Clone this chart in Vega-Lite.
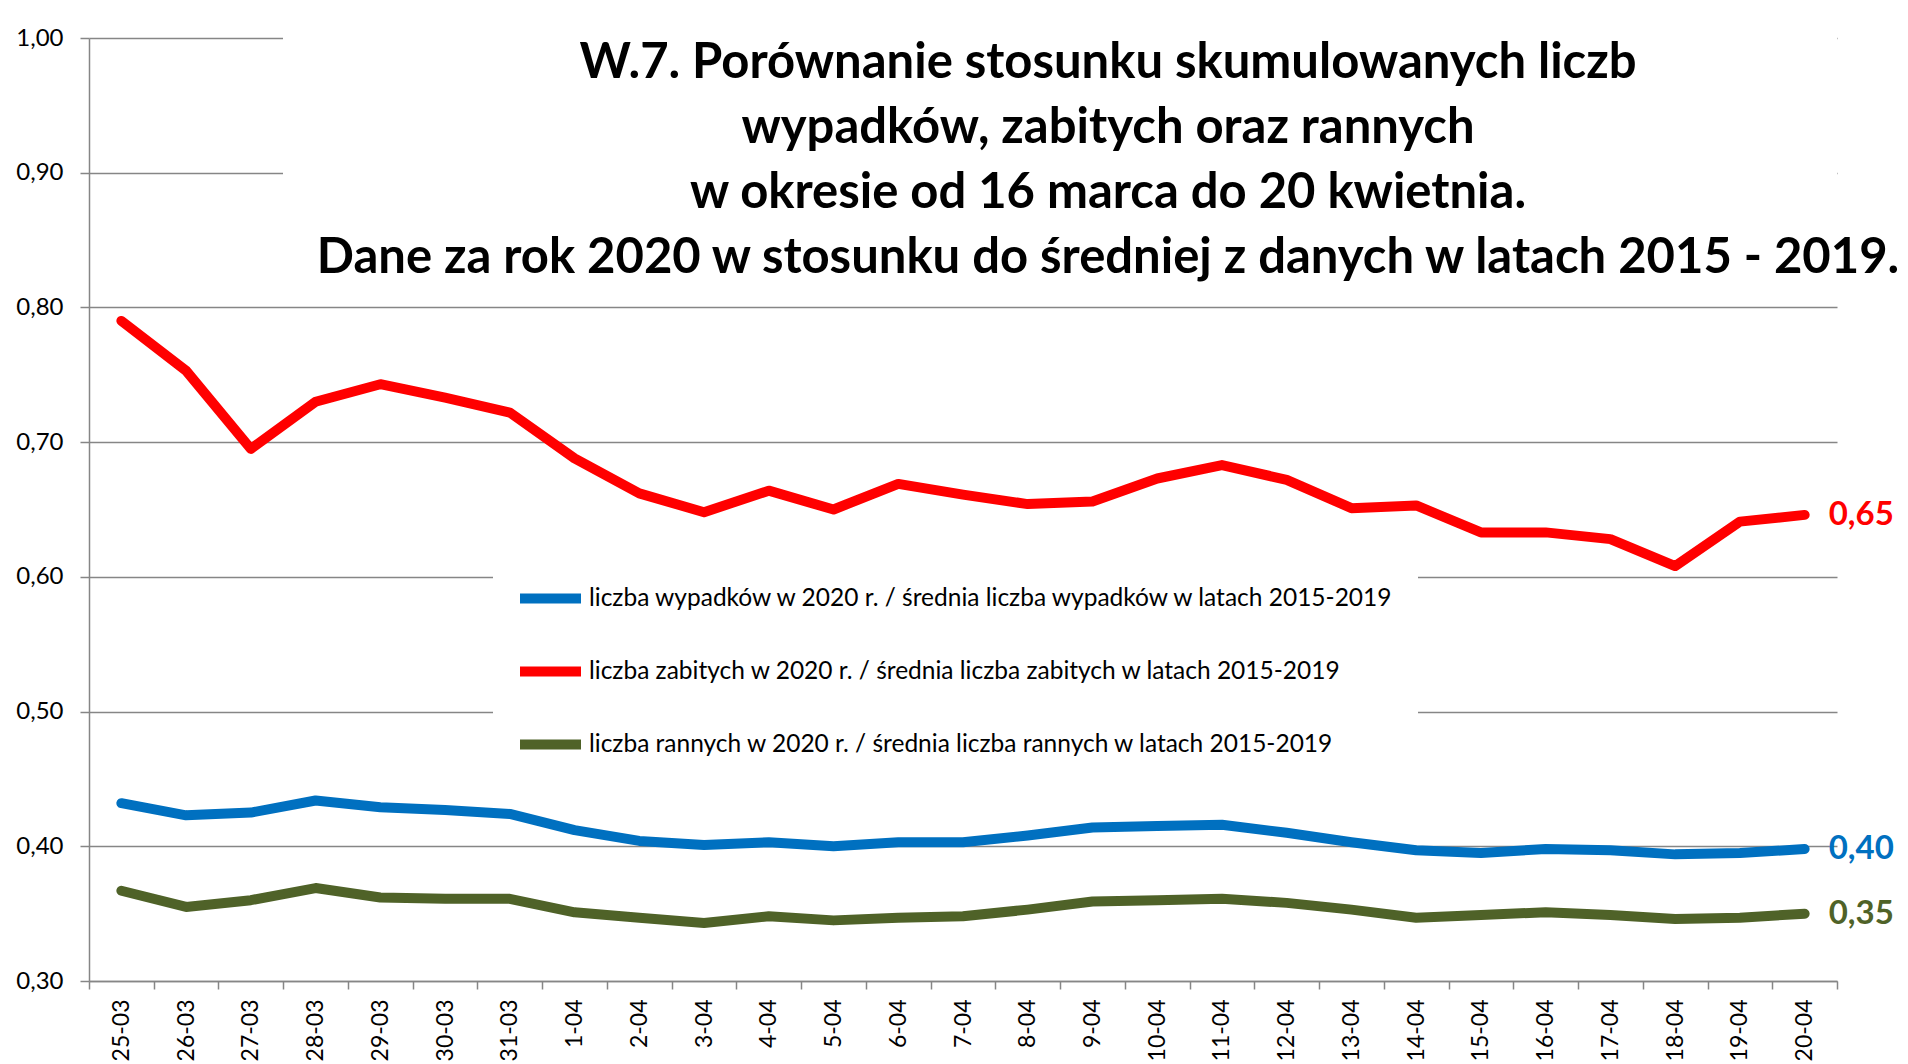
{
  "$schema": "https://vega.github.io/schema/vega-lite/v6.json",
  "autosize": {"type": "none"},
  "width": 1748,
  "height": 943,
  "padding": {"left": 89, "top": 38, "right": 71, "bottom": 83},
  "background": "white",
  "title": {
    "text": ["W.7. Porównanie stosunku skumulowanych liczb", "wypadków, zabitych oraz rannych", "w okresie od 16 marca do 20 kwietnia.", "Dane za rok 2020 w stosunku do średniej z danych w latach 2015 - 2019."],
    "font": "Lato",
    "fontSize": 49,
    "fontWeight": "bold",
    "color": "#000000",
    "lineHeight": 65,
    "anchor": "middle",
    "frame": "group",
    "dx": 145,
    "dy": 330
  },
  "data": {
    "values": [
      {"d": "25-03", "wypadki": 0.432, "zabici": 0.790, "ranni": 0.367},
      {"d": "26-03", "wypadki": 0.423, "zabici": 0.753, "ranni": 0.355},
      {"d": "27-03", "wypadki": 0.425, "zabici": 0.695, "ranni": 0.360},
      {"d": "28-03", "wypadki": 0.434, "zabici": 0.730, "ranni": 0.369},
      {"d": "29-03", "wypadki": 0.429, "zabici": 0.743, "ranni": 0.362},
      {"d": "30-03", "wypadki": 0.427, "zabici": 0.733, "ranni": 0.361},
      {"d": "31-03", "wypadki": 0.424, "zabici": 0.722, "ranni": 0.361},
      {"d": "1-04", "wypadki": 0.412, "zabici": 0.688, "ranni": 0.351},
      {"d": "2-04", "wypadki": 0.404, "zabici": 0.662, "ranni": 0.347},
      {"d": "3-04", "wypadki": 0.401, "zabici": 0.648, "ranni": 0.343},
      {"d": "4-04", "wypadki": 0.403, "zabici": 0.664, "ranni": 0.348},
      {"d": "5-04", "wypadki": 0.400, "zabici": 0.650, "ranni": 0.345},
      {"d": "6-04", "wypadki": 0.403, "zabici": 0.669, "ranni": 0.347},
      {"d": "7-04", "wypadki": 0.403, "zabici": 0.661, "ranni": 0.348},
      {"d": "8-04", "wypadki": 0.408, "zabici": 0.654, "ranni": 0.353},
      {"d": "9-04", "wypadki": 0.414, "zabici": 0.656, "ranni": 0.359},
      {"d": "10-04", "wypadki": 0.415, "zabici": 0.673, "ranni": 0.360},
      {"d": "11-04", "wypadki": 0.416, "zabici": 0.683, "ranni": 0.361},
      {"d": "12-04", "wypadki": 0.410, "zabici": 0.672, "ranni": 0.358},
      {"d": "13-04", "wypadki": 0.403, "zabici": 0.651, "ranni": 0.353},
      {"d": "14-04", "wypadki": 0.397, "zabici": 0.653, "ranni": 0.347},
      {"d": "15-04", "wypadki": 0.395, "zabici": 0.633, "ranni": 0.349},
      {"d": "16-04", "wypadki": 0.398, "zabici": 0.633, "ranni": 0.351},
      {"d": "17-04", "wypadki": 0.397, "zabici": 0.628, "ranni": 0.349},
      {"d": "18-04", "wypadki": 0.394, "zabici": 0.608, "ranni": 0.346},
      {"d": "19-04", "wypadki": 0.395, "zabici": 0.641, "ranni": 0.347},
      {"d": "20-04", "wypadki": 0.398, "zabici": 0.646, "ranni": 0.350}
    ]
  },
  "transform": [{"fold": ["wypadki", "zabici", "ranni"], "as": ["seria", "wartosc"]}],
  "encoding": {
    "x": {
      "field": "d", "type": "ordinal", "sort": null,
      "scale": {
        "type": "band", "paddingInner": 0, "paddingOuter": 0,
        "domain": ["25-03", "26-03", "27-03", "28-03", "29-03", "30-03", "31-03", "1-04", "2-04", "3-04", "4-04", "5-04", "6-04", "7-04", "8-04", "9-04", "10-04", "11-04", "12-04", "13-04", "14-04", "15-04", "16-04", "17-04", "18-04", "19-04", "20-04"]
      },
      "axis": {
        "title": null, "labelAngle": 270, "labelFont": "Lato", "labelFontSize": 23, "labelColor": "#000000",
        "labelPadding": 10, "tickSize": 8, "tickBand": "extent", "tickColor": "#868686", "tickWidth": 1.5,
        "domainColor": "#868686", "domainWidth": 1.5, "grid": false
      }
    }
  },
  "layer": [
    {
      "mark": {"type": "rect", "color": "white"},
      "encoding": {
        "x": {"datum": "28-03", "bandPosition": 0},
        "x2": {"datum": "20-04", "bandPosition": 1},
        "y": {"datum": 0.82, "type": "quantitative"},
        "y2": {"datum": 1.06}
      }
    },
    {
      "mark": {"type": "line", "strokeWidth": 10, "strokeCap": "round", "strokeJoin": "round"},
      "encoding": {
        "y": {
          "field": "wartosc", "type": "quantitative",
          "scale": {"domain": [0.3, 1.0], "nice": false, "zero": false},
          "axis": {
            "title": null, "values": [0.3, 0.4, 0.5, 0.6, 0.7, 0.8, 0.9, 1.0], "format": ".2f",
            "labelFont": "Lato", "labelFontSize": 24, "labelColor": "#000000", "labelPadding": 17,
            "tickSize": 9, "tickColor": "#868686", "tickWidth": 1.5,
            "domainColor": "#868686", "domainWidth": 1.5,
            "grid": true, "gridColor": "#868686", "gridWidth": 1.5
          }
        },
        "color": {
          "field": "seria", "type": "nominal",
          "scale": {"domain": ["wypadki", "zabici", "ranni"], "range": ["#0070C0", "#FF0000", "#4F6228"]},
          "legend": {
            "title": null, "orient": "none", "legendX": 404, "legendY": 503, "direction": "vertical",
            "fillColor": "white", "padding": 22, "symbolType": "stroke", "symbolSize": 3721,
            "symbolStrokeWidth": 10, "rowPadding": 17, "labelOffset": 3,
            "labelFont": "Lato", "labelFontSize": 24.5, "labelColor": "#000000", "labelLimit": 1200,
            "labelExpr": "datum.label == 'wypadki' ? 'liczba wypadków w 2020 r. / średnia liczba wypadków w latach 2015-2019' : datum.label == 'zabici' ? 'liczba zabitych w 2020 r. / średnia liczba zabitych w latach 2015-2019' : 'liczba rannych w 2020 r. / średnia liczba rannych w latach 2015-2019'"
          }
        }
      }
    },
    {
      "transform": [{"filter": "datum.d == '20-04'"}],
      "mark": {"type": "text", "align": "left", "baseline": "middle", "dx": 24, "font": "Lato", "fontSize": 33, "fontWeight": "bold"},
      "encoding": {
        "y": {"field": "wartosc", "type": "quantitative"},
        "text": {"field": "wartosc", "type": "quantitative", "format": ".2f"},
        "color": {"field": "seria", "type": "nominal"}
      }
    }
  ],
  "config": {
    "view": {"stroke": null},
    "locale": {"number": {"decimal": ",", "thousands": " ", "grouping": [3], "currency": ["", " zł"]}}
  }
}
